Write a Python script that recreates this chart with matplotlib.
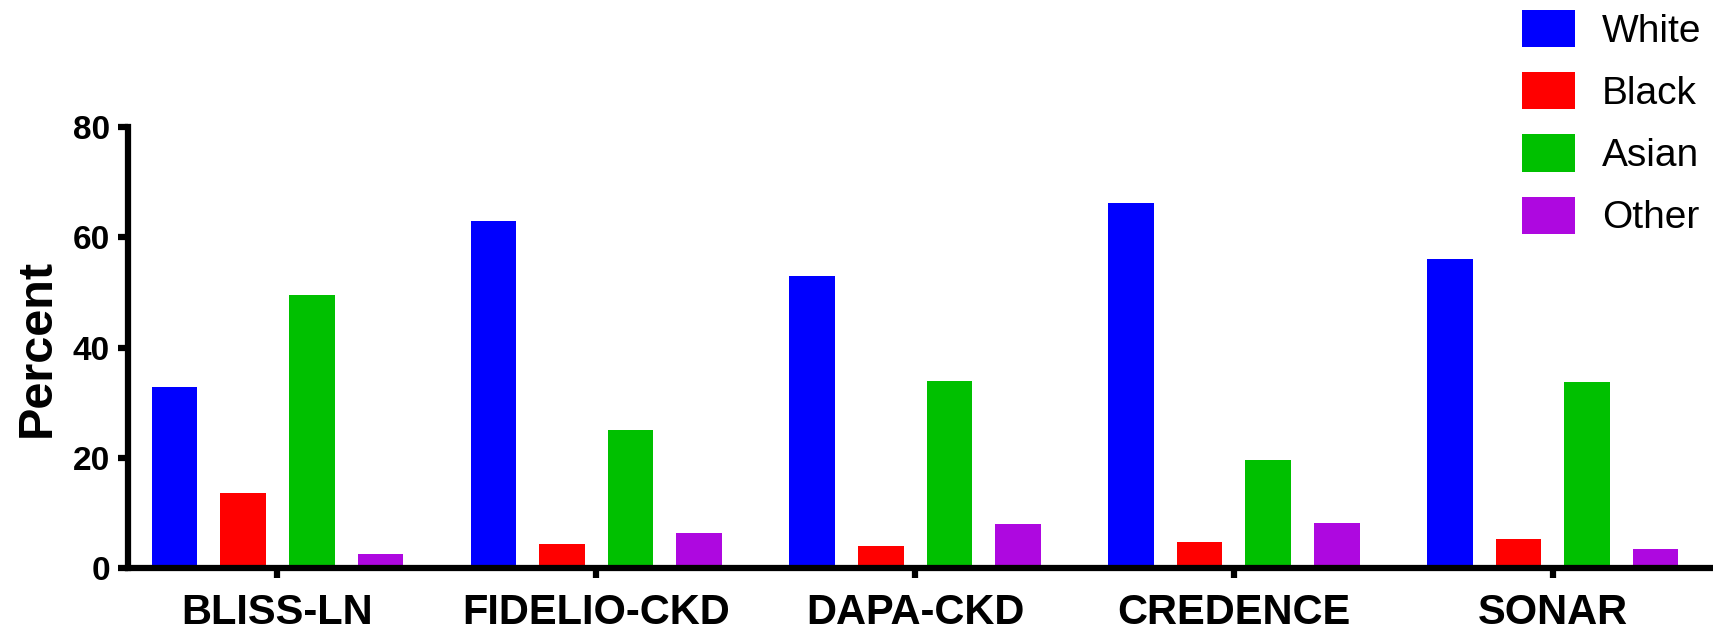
import numpy as np
import matplotlib
matplotlib.use('Agg')
import matplotlib.pyplot as plt

plt.rcParams['font.family'] = ['Liberation Sans', 'DejaVu Sans']

# 各试验的人种构成（百分比）
trials = ['BLISS-LN', 'FIDELIO-CKD', 'DAPA-CKD', 'CREDENCE', 'SONAR']
white = [32.8, 63.0, 53.0, 66.2, 56.0]
black = [13.6, 4.4, 4.0, 4.7, 5.2]
asian = [49.6, 25.1, 33.9, 19.5, 33.8]
other = [2.6, 6.3, 7.9, 8.1, 3.5]

race_names = ['White', 'Black', 'Asian', 'Other']
race_colors = ['#0000FF', '#FF0000', '#00C000', '#AE08E0']

fig = plt.figure(figsize=(17.13, 6.32), dpi=100)
ax = fig.add_axes([0.0747, 0.1013, 0.9233, 0.6977])

x = np.arange(len(trials))
step = 0.215
width = 0.143
for i, vals in enumerate([white, black, asian, other]):
    ax.bar(x + (i - 1.5) * step, vals, width, color=race_colors[i],
           label=race_names[i], linewidth=0)

ax.set_xlim(-0.469, 4.492)
ax.set_ylim(0, 80)
ax.set_yticks([0, 20, 40, 60, 80])
ax.set_xticks(x)
ax.set_xticklabels(trials, fontsize=30, fontweight='bold')
for lab in ax.get_yticklabels():
    lab.set_fontsize(24)
    lab.set_fontweight('bold')
ax.set_ylabel('Percent', fontsize=35, fontweight='bold', labelpad=9)

# GraphPad风格的粗坐标轴
for side in ['top', 'right']:
    ax.spines[side].set_visible(False)
for side in ['left', 'bottom']:
    ax.spines[side].set_linewidth(4.5)
ax.tick_params(axis='both', width=4.5, length=7)
ax.tick_params(axis='y', pad=6)
ax.tick_params(axis='x', pad=11)

fig.legend(loc='upper left', bbox_to_anchor=(0.8885, 0.9845), frameon=False,
           fontsize=28, handlelength=1.35, handleheight=1.1,
           handletextpad=0.7, labelspacing=0.575, borderpad=0, borderaxespad=0)

fig.savefig('out.png', dpi=100)
